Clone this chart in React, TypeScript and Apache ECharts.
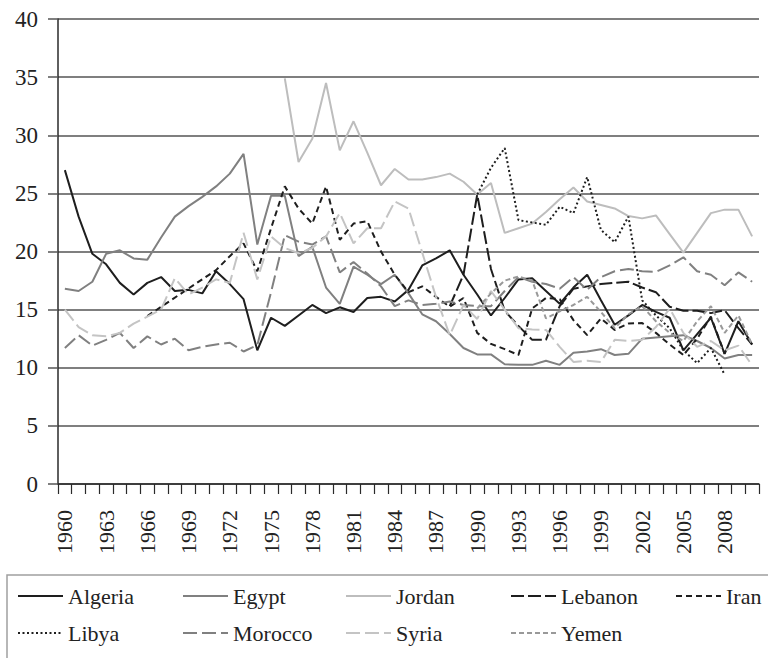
import React, { useEffect, useRef } from "react";
import * as echarts from "echarts";

const years: string[] = [];
for (let y = 1960; y <= 2010; y++) years.push(String(y));

const N = null;
const algeria = [27.0, 23.0, 19.8, 18.9, 17.3, 16.3, 17.3, 17.8, 16.6, 16.7, 16.4, 18.3, 17.2, 15.9, 11.5, 14.3, 13.6, 14.5, 15.4, 14.7, 15.2, 14.8, 16.0, 16.1, 15.7, 16.7, 18.8, 19.4, 20.1, 18.0, 16.3, 14.5, 16.0, 17.6, 17.7, 16.6, 15.5, 16.9, 18.0, 15.8, 13.7, 14.5, 15.4, 14.8, 14.3, 11.5, 12.9, 14.3, 11.2, 14.0, 12.0];
const egypt = [16.8, 16.6, 17.4, 19.8, 20.1, 19.4, 19.3, 21.2, 23.0, 23.9, 24.7, 25.6, 26.7, 28.4, 20.6, 24.8, 24.8, 19.6, 20.4, 16.9, 15.5, 18.7, 18.0, 17.2, 18.0, 16.4, 14.6, 14.0, 12.9, 11.7, 11.15, 11.15, 10.3, 10.25, 10.25, 10.6, 10.25, 11.3, 11.4, 11.6, 11.1, 11.2, 12.5, 12.6, 12.7, 12.8, 12.3, 11.7, 10.8, 11.1, 11.1];
const jordan = [N, N, N, N, N, N, N, N, N, N, N, N, N, N, N, N, 34.9, 27.7, 29.7, 34.5, 28.7, 31.2, 28.5, 25.7, 27.1, 26.2, 26.2, 26.4, 26.7, 26.0, 24.9, 25.9, 21.6, 22.0, 22.4, 23.4, 24.5, 25.5, 24.3, 24.0, 23.7, 23.05, 22.85, 23.1, 21.5, 19.9, 21.6, 23.3, 23.6, 23.6, 21.3];
const lebanon = [N, N, N, N, N, N, N, N, N, N, N, N, N, N, N, N, N, N, N, N, N, N, N, N, N, N, N, N, 15.3, 18.0, 24.9, 18.5, 14.9, 13.6, 12.4, 12.4, 15.3, 16.8, 17.0, 17.2, 17.3, 17.4, 16.9, 16.5, 15.25, 14.9, 14.9, 14.7, 14.95, 13.4, 12.0];
const iran = [N, N, N, N, N, N, 14.45, N, N, N, N, 18.4, 19.6, 20.7, 18.3, 22.0, 25.6, 23.7, 22.4, 25.6, 21.0, 22.4, 22.6, 20.0, 18.0, 16.5, 17.0, 16.1, 15.25, 16.0, 13.0, 12.05, 11.6, 11.1, 15.1, 16.0, 15.9, 14.1, 12.8, 14.25, 13.25, 13.8, 13.85, 13.0, 12.0, 11.1, 12.5, 14.4, 11.2, N, N];
const libya = [N, N, N, N, N, N, N, N, N, N, N, N, N, N, N, N, N, N, N, N, N, N, N, N, N, N, N, N, N, N, 24.9, 27.2, 28.9, 22.7, 22.5, 22.3, 23.85, 23.3, 26.4, 21.85, 20.8, 23.0, 15.8, 14.5, 13.4, 11.5, 10.4, 11.7, 9.4, N, N];
const morocco = [11.7, 12.8, 11.9, 12.4, 13.0, 11.7, 12.7, 12.0, 12.5, 11.5, 11.8, 12.0, 12.15, 11.4, 11.95, 16.5, 21.4, 20.85, 20.6, 21.3, 18.2, 19.1, 18.1, 17.0, 15.3, 15.8, 15.4, 15.5, 15.7, 15.4, 15.3, 15.3, 16.6, 17.8, 17.4, 17.2, 16.8, 17.8, 16.7, 17.8, 18.3, 18.5, 18.3, 18.25, 18.8, 19.5, 18.3, 18.0, 17.1, 18.2, 17.4];
const syria = [15.0, 13.5, 12.8, 12.7, 13.0, 13.8, 14.4, 15.0, 17.7, 16.3, 16.9, 17.6, 17.3, 21.6, 17.6, 21.3, 20.3, 19.85, 20.3, 21.3, 23.3, 20.7, 22.0, 22.0, 24.3, 23.7, 19.9, 16.1, 12.8, 15.4, 14.2, 16.6, 15.0, 13.4, 13.3, 13.25, 11.8, 10.5, 10.6, 10.5, 12.4, 12.3, 12.4, 13.5, 15.1, 13.0, 11.8, 12.3, 11.5, 11.9, 10.2];
const yemen = [N, N, N, N, N, N, N, N, N, N, N, N, N, N, N, N, N, N, N, N, N, N, N, N, N, N, N, N, N, N, 15.1, 16.4, 17.5, 17.85, 17.5, 14.25, 14.85, 15.4, 16.1, 14.8, 13.4, 14.6, 15.3, 14.0, 13.0, 12.3, 14.0, 15.3, 13.0, 14.5, 12.0];

const yTicks = { min: 0, max: 40, interval: 5 };

const FONT = "Liberation Serif";

type S = { name: string; data: (number | null)[]; color: string; type: any; connect?: boolean };
const seriesDefs: S[] = [
  { name: "Algeria", data: algeria, color: "#1e1e1e", type: "solid" },
  { name: "Egypt", data: egypt, color: "#808080", type: "solid" },
  { name: "Jordan", data: jordan, color: "#bdbdbd", type: "solid" },
  { name: "Lebanon", data: lebanon, color: "#1e1e1e", type: [13, 4] },
  { name: "Iran", data: iran, color: "#1e1e1e", type: [6, 4], connect: true },
  { name: "Libya", data: libya, color: "#1e1e1e", type: [2, 2.5] },
  { name: "Morocco", data: morocco, color: "#808080", type: [14, 5] },
  { name: "Syria", data: syria, color: "#c4c4c4", type: [14, 5] },
  { name: "Yemen", data: yemen, color: "#999999", type: [5, 3] },
];

const legendCols: { x: number; names: string[] }[] = [
  { x: 17, names: ["Algeria", "Libya"] },
  { x: 182, names: ["Egypt", "Morocco"] },
  { x: 345, names: ["Jordan", "Syria"] },
  { x: 510, names: ["Lebanon", "Yemen"] },
  { x: 675, names: ["Iran"] },
];

export default function App() {
  const ref = useRef<HTMLDivElement>(null);
  useEffect(() => {
    if (!ref.current) return;
    const chart = echarts.init(ref.current, null, { renderer: "svg" });
    chart.setOption({
      animation: false,
      backgroundColor: "#ffffff",
      grid: { left: 58, right: 9, top: 19, bottom: 174, containLabel: false },
      xAxis: {
        type: "category",
        data: years,
        boundaryGap: true,
        axisLine: { lineStyle: { color: "#2a2a2a", width: 1.5 } },
        axisTick: { show: true, length: 10, interval: 0, lineStyle: { color: "#2a2a2a", width: 1.2 } },
        axisLabel: { interval: 2, rotate: 90, margin: 26, fontFamily: FONT, fontSize: 22, color: "#222" },
        splitLine: { show: false },
      },
      yAxis: {
        type: "value",
        min: yTicks.min,
        max: yTicks.max,
        interval: yTicks.interval,
        axisLine: { show: true, lineStyle: { color: "#2a2a2a", width: 1.5 } },
        axisTick: { show: true, length: 10, lineStyle: { color: "#555", width: 1.5 } },
        axisLabel: { margin: 20, fontFamily: FONT, fontSize: 23, color: "#222" },
        splitLine: { show: true, lineStyle: { color: "#555", width: 1.6 } },
      },
      legend: legendCols.map((c) => ({
        data: c.names,
        orient: "vertical",
        left: c.x,
        top: 585,
        padding: 0,
        itemWidth: 45,
        itemHeight: 14,
        itemGap: 15,
        selectedMode: false,
        itemStyle: { opacity: 0 },
        textStyle: { fontFamily: FONT, fontSize: 22, color: "#222" },
      })),
      graphic: [
        {
          type: "rect",
          shape: { x: 7, y: 575, width: 780, height: 120 },
          style: { fill: "none", stroke: "#a0a0a0", lineWidth: 1.5 },
          silent: true,
        },
      ],
      series: seriesDefs.map((s) => ({
        name: s.name,
        type: "line",
        data: s.data,
        symbol: "none",
        connectNulls: !!s.connect,
        lineStyle: { color: s.color, width: 2, type: s.type },
        itemStyle: { color: s.color },
        emphasis: { disabled: true },
      })),
    });
    return () => chart.dispose();
  }, []);
  return <div ref={ref} style={{ width: 768, height: 658, position: "absolute", left: 0, top: 0 }} />;
}
